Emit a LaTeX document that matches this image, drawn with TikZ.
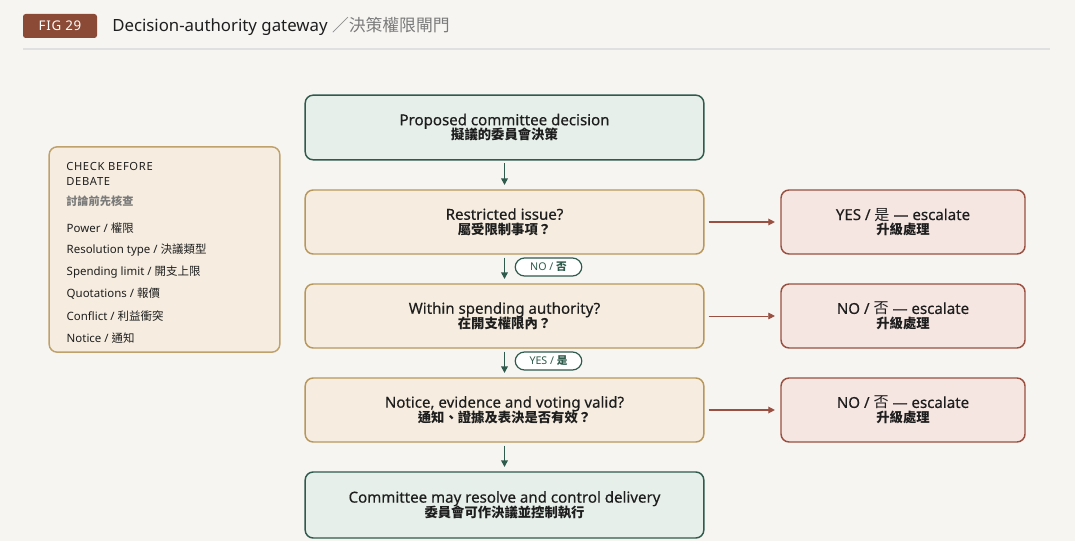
\documentclass[tikz,border=0pt]{standalone}
\usepackage{fontspec}
\setmainfont{Noto Sans}
\newfontfamily\cjk{Noto Sans CJK TC}
\usetikzlibrary{arrows.meta}
\definecolor{bg}{HTML}{F7F5F2}
\definecolor{gfill}{HTML}{E6EFE9}
\definecolor{gline}{HTML}{2F5B4D}
\definecolor{tfill}{HTML}{F6EDE0}
\definecolor{tline}{HTML}{B8975A}
\definecolor{rfill}{HTML}{F5E6E2}
\definecolor{rline}{HTML}{9A5040}
\definecolor{badge}{HTML}{8B4A35}
\definecolor{ink}{HTML}{1E1E1E}
\definecolor{grey}{HTML}{7A7A7A}
\tikzset{
 box/.style={draw, rounded corners=6pt, line width=1.1pt, text=ink, align=center},
 gbox/.style={box, fill=gfill, draw=gline},
 tbox/.style={box, fill=tfill, draw=tline},
 rbox/.style={box, fill=rfill, draw=rline},
 varr/.style={-{Triangle[length=5pt,width=5pt]}, draw=gline, line width=1.2pt},
 harr/.style={-{Triangle[length=5pt,width=5pt]}, draw=rline, line width=0.9pt},
 pill/.style={draw=gline, fill=white, rounded corners=7pt, line width=0.9pt, text=gline, font=\fontsize{8}{9}\selectfont\bfseries, inner sep=2pt, minimum height=13.5pt, minimum width=50pt},
 t1/.style={font=\fontsize{11.2}{13}\selectfont},
 item/.style={anchor=west, font=\fontsize{8.6}{10}\selectfont, text=ink},
}
\newcommand{\two}[2]{{\fontsize{11.3}{14}\selectfont\addfontfeature{FakeBold=0.4}#1}\\[-1pt]{\cjk\bfseries\fontsize{10}{13}\selectfont #2}}
\begin{document}
\begin{tikzpicture}[x=0.75pt,y=-0.75pt]
\fill[bg] (0,0) rectangle (1075,541);
\useasboundingbox (0,0) rectangle (1075,541);
% header
\node[fill=badge, rounded corners=2pt, minimum width=55.5pt, minimum height=18pt, text=white, font=\fontsize{10}{12}\selectfont\addfontfeature{LetterSpace=5}, inner sep=0pt] (badge) at (60,26) {FIG 29};
\node[anchor=west, inner sep=0pt, text=ink] (title) at (112,26) {{\fontsize{12.6}{14}\selectfont\bfseries Decision-authority gateway}\,\,{\cjk\fontsize{12.6}{14}\selectfont\color{grey}／決策權限閘門}};
\draw[draw=black!12, line width=1pt] (23,49) -- (1050,49);
% main column
\node[gbox, minimum width=299pt, minimum height=48.5pt] (top) at (504.5,127.5) {\two{Proposed committee decision}{擬議的委員會決策}};
\node[tbox, minimum width=299pt, minimum height=48pt] (q1) at (504.5,222) {\two{Restricted issue?}{屬受限制事項？}};
\node[tbox, minimum width=299pt, minimum height=48pt] (q2) at (504.5,316) {\two{Within spending authority?}{在開支權限內？}};
\node[tbox, minimum width=299pt, minimum height=48pt] (q3) at (504.5,410) {\two{Notice, evidence and voting valid?}{通知、證據及表決是否有效？}};
\node[gbox, minimum width=299pt, minimum height=49.5pt] (bot) at (504.5,505) {\two{Committee may resolve and control delivery}{委員會可作決議並控制執行}};
% right
\node[rbox, minimum width=183pt, minimum height=48pt] (r1) at (903,222) {\two{YES / {\cjk 是} — escalate}{升級處理}};
\node[rbox, minimum width=183pt, minimum height=48pt] (r2) at (903,316) {\two{NO / {\cjk 否} — escalate}{升級處理}};
\node[rbox, minimum width=183pt, minimum height=48pt] (r3) at (903,410) {\two{NO / {\cjk 否} — escalate}{升級處理}};
% vertical arrows
\draw[varr] ([yshift=-2.2pt]top.south) -- ([yshift=3.2pt]q1.north);
\draw[varr] ([yshift=-2.2pt]q1.south) -- ([yshift=3.2pt]q2.north);
\draw[varr] ([yshift=-2.2pt]q2.south) -- ([yshift=3.2pt]q3.north);
\draw[varr] ([yshift=-2.2pt]q3.south) -- ([yshift=3.2pt]bot.north);
\node[pill] (p1) at (548.5,267) {NO / {\cjk 否}};
\node[pill] (p2) at (548.5,361) {YES / {\cjk 是}};
% horizontal arrows
\draw[harr] ([xshift=3pt]q1.east) -- ([xshift=-4pt]r1.west);
\draw[harr, line width=0.6pt] ([xshift=3pt]q2.east) -- ([xshift=-4pt]r2.west);
\draw[harr] ([xshift=3pt]q3.east) -- ([xshift=-4pt]r3.west);
% left box
\node[draw=tline!90, fill=tfill, rounded corners=6pt, line width=1.1pt, minimum width=173pt, minimum height=154pt] (chk) at (164.5,249.5) {};
\node[anchor=north west, align=left, inner sep=0pt, text=ink, font=\fontsize{8.4}{11.2}\selectfont\bfseries\addfontfeature{LetterSpace=6}] (ct) at (66,162) {CHECK BEFORE\\DEBATE};
\node[anchor=west, inner sep=0pt, text=grey, font=\cjk\bfseries\fontsize{8.4}{10}\selectfont] (cc) at (66,201) {討論前先核查};
\node[item] (i1) at (62,228) {Power / {\cjk 權限}};
\node[item] (i2) at (62,250) {Resolution type / {\cjk 決議類型}};
\node[item] (i3) at (62,272) {Spending limit / {\cjk 開支上限}};
\node[item] (i4) at (62,294) {Quotations / {\cjk 報價}};
\node[item] (i5) at (62,316) {Conflict / {\cjk 利益衝突}};
\node[item] (i6) at (62,338) {Notice / {\cjk 通知}};
\end{tikzpicture}
\end{document}
